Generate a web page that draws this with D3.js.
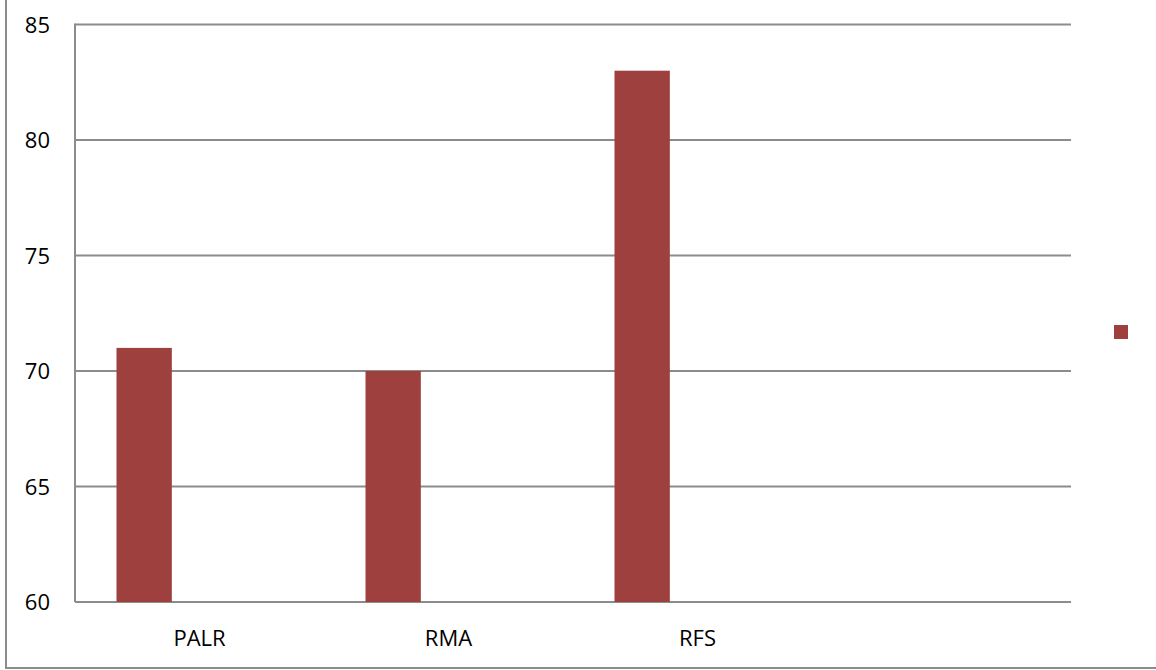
<!DOCTYPE html>
<html>
<head>
<meta charset="utf-8">
<script src="https://cdn.jsdelivr.net/npm/d3@7"></script>
<style>
  body { margin: 0; background: #fff; }
  svg { display: block; }
  text { font-family: "Open Sans", sans-serif; font-size: 22px; fill: #000; }
</style>
</head>
<body>
<div id="chart"></div>
<script>
// categories along the bottom (fourth slot is empty in the original)
var categories = ["PALR", "RMA", "RFS", ""];
// three series, only the first one carries values
var seriesNames = ["s1", "s2", "s3"];
var values = [71, 70, 83];
var yTicks = [60, 65, 70, 75, 80, 85];

var width = 1156, height = 670;
var plot = { left: 75, right: 1071, top: 24.5, bottom: 602 };
var barColor = "#9e413e";
var gridColor = "#8c8c8c";

var svg = d3.select("#chart").append("svg")
    .attr("width", width)
    .attr("height", height);

// outer frame, only left and bottom edges show
svg.append("line")
    .attr("x1", 6).attr("x2", 6).attr("y1", 0).attr("y2", 668)
    .attr("stroke", gridColor).attr("stroke-width", 2);
svg.append("line")
    .attr("x1", 5).attr("x2", width).attr("y1", 668).attr("y2", 668)
    .attr("stroke", gridColor).attr("stroke-width", 2);

let x0 = d3.scaleBand().domain(categories).range([plot.left, plot.right]).padding(0);
let x1 = d3.scaleBand().domain(seriesNames).range([0, x0.bandwidth()])
    .paddingInner(0).paddingOuter(0.75);
let y = d3.scaleLinear().domain([60, 85]).range([plot.bottom, plot.top]);

// gridlines
svg.append("g").selectAll("line")
    .data(yTicks)
    .enter()
    .append("line")
      .attr("x1", plot.left)
      .attr("x2", plot.right)
      .attr("y1", d => y(d))
      .attr("y2", d => y(d))
      .attr("stroke", gridColor)
      .attr("stroke-width", 2);

// y axis line
svg.append("line")
    .attr("x1", plot.left).attr("x2", plot.left)
    .attr("y1", plot.top - 1).attr("y2", plot.bottom)
    .attr("stroke", gridColor).attr("stroke-width", 2);

// y tick labels
svg.append("g").selectAll("text")
    .data(yTicks)
    .enter()
    .append("text")
      .attr("x", 50)
      .attr("y", d => y(d) + 8)
      .attr("text-anchor", "end")
      .text(d => d);

// bars (first series only)
svg.append("g").selectAll("rect")
    .data(values)
    .enter()
    .append("rect")
      .attr("x", (d, i) => x0(categories[i]) + x1("s1"))
      .attr("y", d => y(d))
      .attr("width", x1.bandwidth())
      .attr("height", d => y(60) - y(d))
      .attr("fill", barColor);

// category labels
svg.append("g").selectAll("text")
    .data(categories)
    .enter()
    .append("text")
      .attr("x", d => x0(d) + x0.bandwidth() / 2)
      .attr("y", 646)
      .attr("text-anchor", "middle")
      .text(d => d);

// legend marker with no label
svg.append("rect")
    .attr("x", 1114)
    .attr("y", 325)
    .attr("width", 14)
    .attr("height", 14)
    .attr("fill", barColor);
</script>
</body>
</html>
